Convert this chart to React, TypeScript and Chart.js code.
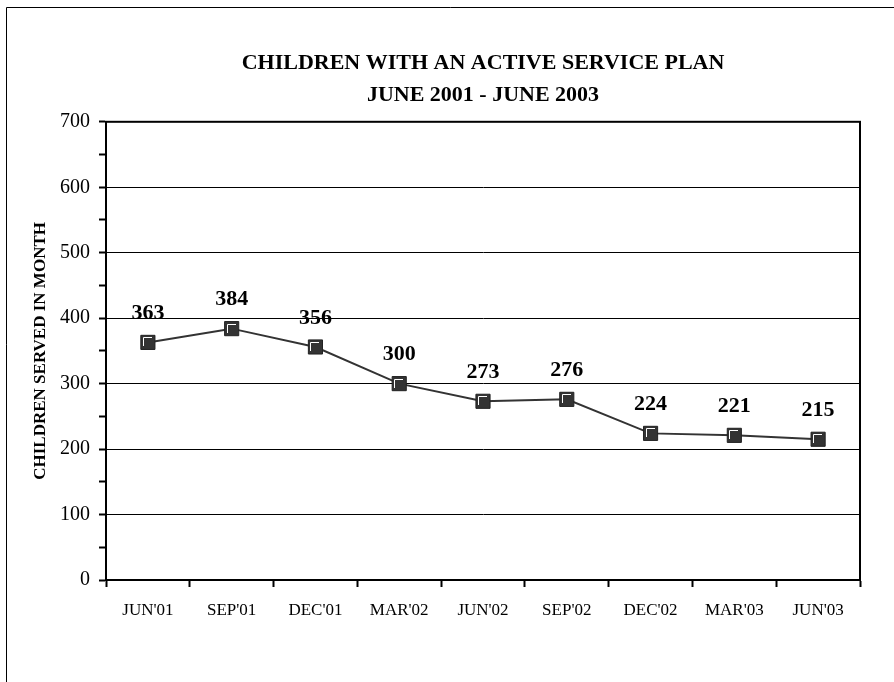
import React, { useEffect, useRef } from "react";
import { Chart, registerables } from "chart.js";

Chart.register(...registerables);

const categories = ["JUN'01", "SEP'01", "DEC'01", "MAR'02", "JUN'02", "SEP'02", "DEC'02", "MAR'03", "JUN'03"];
const childrenServed = [363, 384, 356, 300, 273, 276, 224, 221, 215];
const titleLines = ["CHILDREN WITH AN ACTIVE SERVICE PLAN", "JUNE 2001 - JUNE 2003"];
const yAxisTitle = "CHILDREN SERVED IN MONTH";
const yMin = 0;
const yMax = 700;

const SERIF = "'Liberation Serif', 'Times New Roman', serif";

const decorPlugin = {
  id: "decor",
  beforeDraw(chart: any) {
    const ctx = chart.ctx;
    ctx.save();
    ctx.fillStyle = "#fff";
    ctx.fillRect(0, 0, chart.width, chart.height);
    ctx.strokeStyle = "#000";
    ctx.lineWidth = 1;
    ctx.beginPath();
    ctx.moveTo(6.5, chart.height);
    ctx.lineTo(6.5, 7.5);
    ctx.lineTo(chart.width, 7.5);
    ctx.stroke();
    ctx.restore();
  },
  afterDatasetsDraw(chart: any) {
    const ctx = chart.ctx;
    const a = chart.chartArea;
    ctx.save();
    ctx.strokeStyle = "#000";
    ctx.lineWidth = 2;
    ctx.strokeRect(a.left, a.top, a.right - a.left, a.bottom - a.top);
    const meta = chart.getDatasetMeta(0);
    const data = chart.data.datasets[0].data as number[];
    meta.data.forEach((pt: any, i: number) => {
      const x = Math.round(pt.x);
      const y = Math.round(pt.y);
      ctx.strokeStyle = "#fff";
      ctx.lineWidth = 1;
      ctx.beginPath();
      ctx.moveTo(x - 4.5, y + 4);
      ctx.lineTo(x - 4.5, y - 4.5);
      ctx.lineTo(x + 4, y - 4.5);
      ctx.stroke();
      ctx.fillStyle = "#000";
      ctx.font = `bold 22px ${SERIF}`;
      ctx.textAlign = "center";
      ctx.textBaseline = "middle";
      ctx.fillText(String(data[i]), pt.x, pt.y - 29);
    });
    ctx.restore();
  },
};

export default function App() {
  const ref = useRef<HTMLCanvasElement>(null);
  useEffect(() => {
    if (!ref.current) return;
    const chart = new Chart(ref.current, {
      type: "line",
      data: {
        labels: categories,
        datasets: [
          {
            data: childrenServed,
            borderColor: "#333",
            borderWidth: 2,
            pointStyle: "rect",
            pointRadius: 10,
            pointBackgroundColor: "#333",
            pointBorderColor: "#222",
            pointBorderWidth: 1,
            tension: 0,
          },
        ],
      },
      plugins: [decorPlugin],
      options: {
        responsive: false,
        animation: false,
        devicePixelRatio: 1,
        layout: { padding: { left: 0, right: 34, top: 0, bottom: 60 } },
        plugins: {
          legend: { display: false },
          tooltip: { enabled: false },
          title: {
            display: true,
            fullSize: false,
            text: titleLines,
            color: "#000",
            font: { family: SERIF, size: 22, weight: "bold", lineHeight: 1.45 },
            padding: { top: 47, bottom: 11 },
          },
        },
        scales: {
          x: {
            offset: true,
            afterFit: (s: any) => {
              s.height = 42;
            },
            grid: {
              offset: true,
              drawOnChartArea: false,
              drawTicks: true,
              tickLength: 7,
              tickColor: "#000",
              tickWidth: 2,
              color: "#000",
            },
            border: { color: "#000", width: 2 },
            ticks: {
              color: "#000",
              font: { family: SERIF, size: 17 },
              padding: 13,
              maxRotation: 0,
              autoSkip: false,
            },
          },
          y: {
            min: yMin,
            max: yMax,
            afterFit: (s: any) => {
              s.width = 106;
            },
            title: {
              display: true,
              text: yAxisTitle,
              color: "#000",
              font: { family: SERIF, size: 17, weight: "bold" },
              padding: { top: 30, bottom: 0 },
            },
            grid: {
              color: (c: any) => (c.tick && c.tick.value % 100 === 0 ? "#000" : "rgba(0,0,0,0)"),
              lineWidth: 1,
              tickColor: "#000",
              tickWidth: 2,
              tickLength: 7,
            },
            border: { color: "#000", width: 2 },
            ticks: {
              stepSize: 50,
              color: "#000",
              font: { family: SERIF, size: 20 },
              padding: 9,
              callback: (v: any) => (Number(v) % 100 === 0 ? String(v) : ""),
            },
          },
        },
      },
    });
    return () => chart.destroy();
  }, []);
  return (
    <div style={{ position: "absolute", left: 0, top: 0, width: 894, height: 682 }}>
      <canvas ref={ref} width={894} height={682} style={{ display: "block" }} />
    </div>
  );
}
